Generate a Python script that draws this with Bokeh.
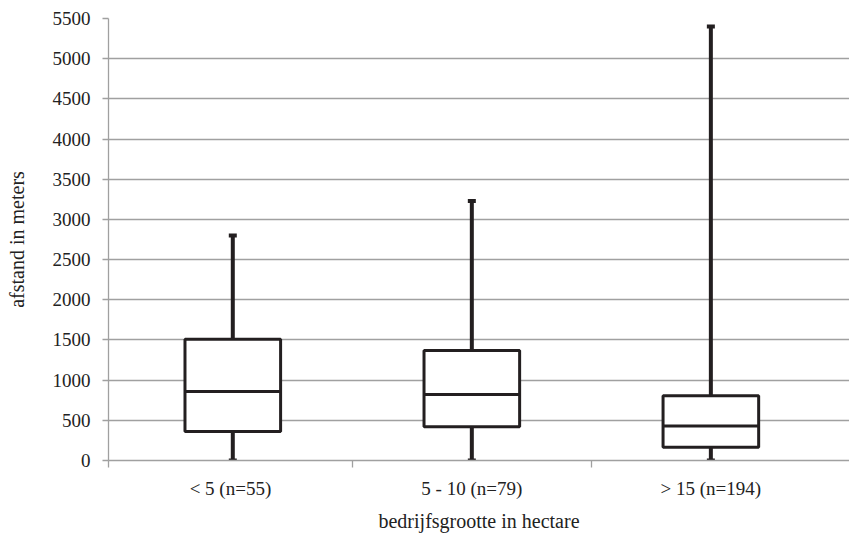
from bokeh.plotting import figure
from bokeh.models import FixedTicker, Range1d, ColumnDataSource
from bokeh.embed import file_html
from bokeh.resources import INLINE

categories = ["< 5  (n=55)", "5 - 10 (n=79)", "> 15 (n=194)"]
minimum = [0, 0, 0]
q1 = [360, 420, 165]
median = [860, 820, 430]
q3 = [1510, 1370, 805]
maximum = [2800, 3230, 5400]
y_ticks = list(range(0, 5501, 500))
x_title = "bedrijfsgrootte in hectare"
y_title = "afstand in meters"

xpos = [i + 0.5 for i in range(len(categories))]
src = ColumnDataSource(dict(x=xpos, lo=minimum, q1=q1, med=median, q3=q3, hi=maximum))

FONT = "Liberation Serif"
INK = "#231f20"
GRID = "#a0a0a0"
TXT = "#222222"

p = figure(width=849, height=534, output_backend="svg", toolbar_location=None,
           x_range=Range1d(-0.02, 3.08), y_range=Range1d(0, 5500),
           min_border_left=108, min_border_right=0, min_border_top=18, min_border_bottom=74)
p.outline_line_color = None
p.xgrid.grid_line_color = None
p.ygrid.grid_line_color = GRID
p.ygrid.grid_line_width = 1.3

# whiskers
p.segment(x0="x", y0="q3", x1="x", y1="hi", source=src, line_color=INK, line_width=4)
p.segment(x0="x", y0="lo", x1="x", y1="q1", source=src, line_color=INK, line_width=4)
p.rect(x="x", y="hi", width=8, height=4, width_units="screen", height_units="screen",
       source=src, fill_color=INK, line_color=None)
p.rect(x="x", y="lo", width=8, height=4, width_units="screen", height_units="screen",
       source=src, fill_color=INK, line_color=None)
# boxes
p.vbar(x="x", bottom="q1", top="q3", width=0.4, source=src, fill_color="white",
       line_color=INK, line_width=3)
p.vbar(x="x", bottom="med", top="med", width=0.4, source=src, fill_color=None,
       line_color=INK, line_width=3)

# x axis
xa = p.xaxis[0]
xa.ticker = FixedTicker(ticks=xpos, minor_ticks=[-0.02, 1, 2])
xa.major_label_overrides = {x: c for x, c in zip(xpos, categories)}
xa.major_tick_line_color = None
xa.major_tick_out = 0
xa.major_tick_in = 0
xa.minor_tick_line_color = GRID
xa.minor_tick_line_width = 1.3
xa.minor_tick_out = 7
xa.minor_tick_in = 0
xa.axis_line_color = GRID
xa.axis_line_width = 1.3
xa.major_label_standoff = 10
xa.major_label_text_font = FONT
xa.major_label_text_font_size = "19px"
xa.major_label_text_color = TXT
xa.axis_label = x_title
xa.axis_label_text_font = FONT
xa.axis_label_text_font_size = "20px"
xa.axis_label_text_font_style = "normal"
xa.axis_label_text_color = TXT
xa.axis_label_standoff = 8

# y axis
ya = p.yaxis[0]
ya.ticker = FixedTicker(ticks=y_ticks)
ya.axis_line_color = GRID
ya.axis_line_width = 1.3
ya.major_tick_line_color = GRID
ya.major_tick_line_width = 1.3
ya.major_tick_out = 6
ya.major_tick_in = 0
ya.minor_tick_line_color = None
ya.major_label_standoff = 12
ya.major_label_text_font = FONT
ya.major_label_text_font_size = "19px"
ya.major_label_text_color = TXT
ya.axis_label = y_title
ya.axis_label_text_font = FONT
ya.axis_label_text_font_size = "20px"
ya.axis_label_text_font_style = "normal"
ya.axis_label_text_color = TXT
ya.axis_label_standoff = 22

open("out.html", "w").write(file_html(p, INLINE))
